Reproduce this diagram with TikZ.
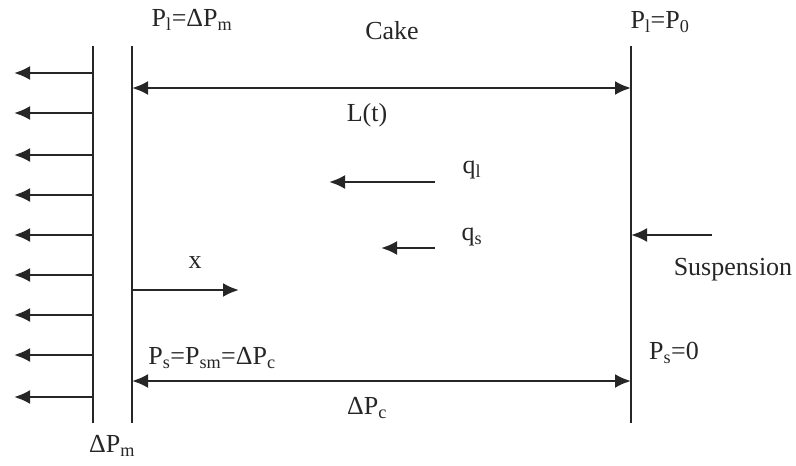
\documentclass[tikz,border=0pt]{standalone}
\usepackage{fontspec}
\setmainfont{Liberation Serif}
\usetikzlibrary{arrows.meta}
\newcommand\sbs[1]{\textsubscript{#1}}
\begin{document}
\begin{tikzpicture}[x=1pt,y=-1pt,
  wall/.style={line width=2.4pt,draw=black!85},
  arr/.style={line width=2.4pt,draw=black!85,-{Latex[length=16pt,width=14pt]}},
  darr/.style={line width=2.4pt,draw=black!85,{Latex[length=16pt,width=14pt]}-{Latex[length=16pt,width=14pt]}},
  lbl/.style={inner sep=0pt,font=\fontsize{26}{30}\selectfont,text=black!85}]
\useasboundingbox (0,0) rectangle (796,466);
% walls
\coordinate (m1t) at (93,46); \coordinate (m1b) at (93,423);
\coordinate (m2t) at (132,46); \coordinate (m2b) at (132,423);
\coordinate (rt) at (631,46); \coordinate (rb) at (631,423);
\draw[wall] (m1t) -- (m1b);
\draw[wall] (m2t) -- (m2b);
\draw[wall] (rt) -- (rb);
% left outflow arrows
\foreach \y [count=\i] in {73,113,155,195,235,275,315,355,397} {
  \coordinate (ls\i) at (93,\y);
  \coordinate (le\i) at (14,\y);
  \draw[arr] (ls\i) -- (le\i);
}
% L(t)
\coordinate (la) at (132,88); \coordinate (lb) at (631,88);
\draw[darr] (la) -- (lb);
\node[lbl] (lt) at (367,115) {L(t)};
% Delta Pc
\coordinate (ca) at (132,381); \coordinate (cb) at (631,381);
\draw[darr] (ca) -- (cb);
\node[lbl] (dpc) at (367,408) {ΔP\sbs{c}};
% q arrows
\coordinate (ql1) at (435,182); \coordinate (ql2) at (329,182);
\draw[arr] (ql1) -- (ql2);
\node[lbl] (qlt) at (472,170) {q\sbs{l}};
\coordinate (qs1) at (435,248); \coordinate (qs2) at (381,248);
\draw[arr] (qs1) -- (qs2);
\node[lbl] (qst) at (472,237) {q\sbs{s}};
% suspension
\coordinate (s1) at (712,235); \coordinate (s2) at (631,235);
\draw[arr] (s1) -- (s2);
\node[lbl] (susp) at (733,270) {Suspension};
% x
\coordinate (x1) at (132,290); \coordinate (x2) at (239,290);
\draw[arr] (x1) -- (x2);
\node[lbl] (xl) at (195,263) {x};
% labels
\node[lbl] (plm) at (192,20) {P\sbs{l}=ΔP\sbs{m}};
\node[lbl] (cake) at (392,31) {Cake};
\node[lbl] (pl0) at (660,22) {P\sbs{l}=P\sbs{0}};
\node[lbl] (psm) at (212,358) {P\sbs{s}=P\sbs{sm}=ΔP\sbs{c}};
\node[lbl] (ps0) at (674,353) {P\sbs{s}=0};
\node[lbl] (dpm) at (112,446) {ΔP\sbs{m}};
\end{tikzpicture}
\end{document}
